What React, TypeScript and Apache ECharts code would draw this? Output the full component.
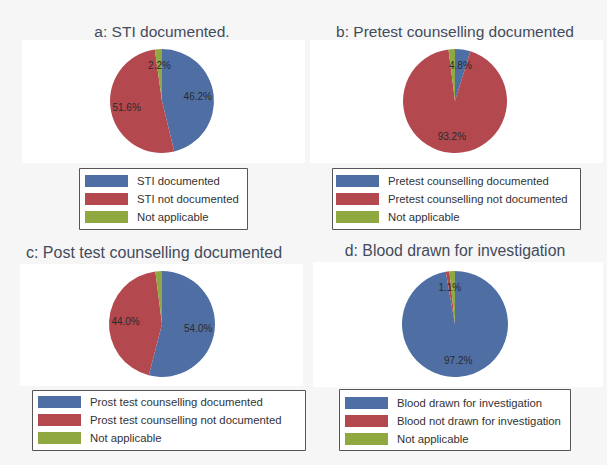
import React, { useEffect, useRef } from "react";
import * as echarts from "echarts";

const panelTitles = [
  "a: STI documented.",
  "b: Pretest counselling documented",
  "c: Post test counselling documented",
  "d: Blood drawn for investigation",
];

const legendA = ["STI documented", "STI not documented", "Not applicable"];
const legendB = ["Pretest counselling documented", "Pretest counselling not documented", "Not applicable"];
const legendC = ["Prost test counselling documented", "Prost test counselling not documented", "Not applicable"];
const legendD = ["Blood drawn for investigation", "Blood not drawn for investigation", "Not applicable"];

const valuesA = [46.2, 51.6, 2.2];
const valuesB = [4.8, 93.2, 2.0];
const valuesC = [54.0, 44.0, 2.0];
const valuesD = [97.2, 1.1, 1.7];

const labelShownA = [true, true, true];
const labelShownB = [true, true, false];
const labelShownC = [true, true, false];
const labelShownD = [true, true, false];

const sliceColors = ["#4f6fa4", "#b3484f", "#8fa83f"];
const FONT = "'Liberation Sans', Arial, sans-serif";

type Panel = {
  title: string;
  titleX: number;
  titleY: number;
  titleSize: number;
  names: string[];
  values: number[];
  shown: boolean[];
  cx: number;
  cy: number;
  r: number;
  white: [number, number, number, number];
  box: [number, number, number, number];
  legendLeft: number;
  legendTop: number;
};

const panels: Panel[] = [
  {
    title: panelTitles[0], titleX: 162, titleY: 31, titleSize: 15.5, names: legendA, values: valuesA, shown: labelShownA,
    cx: 162, cy: 101, r: 52, white: [22, 40, 283, 123], box: [79, 168, 168, 61], legendLeft: 85, legendTop: 175,
  },
  {
    title: panelTitles[1], titleX: 455, titleY: 31, titleSize: 15.5, names: legendB, values: valuesB, shown: labelShownB,
    cx: 455, cy: 101, r: 52, white: [310, 40, 293, 123], box: [332, 168, 248, 61], legendLeft: 336, legendTop: 175,
  },
  {
    title: panelTitles[2], titleX: 154, titleY: 252, titleSize: 16, names: legendC, values: valuesC, shown: labelShownC,
    cx: 162, cy: 324, r: 53, white: [20, 264, 283, 122], box: [32, 390, 273, 60], legendLeft: 38, legendTop: 396,
  },
  {
    title: panelTitles[3], titleX: 455, titleY: 250, titleSize: 15.8, names: legendD, values: valuesD, shown: labelShownD,
    cx: 455, cy: 324, r: 53, white: [313, 262, 290, 125], box: [339, 389, 231, 61], legendLeft: 345, legendTop: 397,
  },
];

export default function App() {
  const ref = useRef<HTMLDivElement>(null);

  useEffect(() => {
    document.body.style.margin = "0";
    if (!ref.current) return;
    const chart = echarts.init(ref.current, undefined, { renderer: "svg" });

    const graphics: any[] = [];
    const series: any[] = [];
    const legends: any[] = [];

    panels.forEach((p, pi) => {
      graphics.push({
        type: "rect", z: 0,
        shape: { x: p.white[0], y: p.white[1], width: p.white[2], height: p.white[3] },
        style: { fill: "#ffffff" }, silent: true,
      });
      graphics.push({
        type: "rect", z: 1,
        shape: { x: p.box[0] + 0.5, y: p.box[1] + 0.5, width: p.box[2], height: p.box[3] },
        style: { fill: "#ffffff", stroke: "#555555", lineWidth: 1 }, silent: true,
      });
      graphics.push({
        type: "text", z: 2,
        x: p.titleX, y: p.titleY,
        style: {
          text: p.title, fill: "#434b5c", font: `${p.titleSize}px ${FONT}`,
          textAlign: "center", textVerticalAlign: "middle",
        },
      });

      series.push({
        type: "pie",
        center: [p.cx, p.cy],
        radius: [0, p.r],
        startAngle: 90,
        clockwise: true,
        silent: true,
        label: { show: false },
        labelLine: { show: false },
        data: p.values.map((v, i) => ({
          name: p.names[i], value: v, itemStyle: { color: sliceColors[i] },
        })),
      });
      series.push({
        type: "pie",
        center: [p.cx, p.cy],
        radius: [Math.round(p.r * 0.26), p.r],
        startAngle: 90,
        clockwise: true,
        silent: true,
        z: 3,
        itemStyle: { color: "rgba(0,0,0,0)" },
        labelLine: { show: false },
        data: p.values.map((v, i) => ({
          name: `lbl-${pi}-${i}`,
          value: v,
          label: {
            show: p.shown[i], position: "inside",
            formatter: `${v.toFixed(1)}%`,
            color: "#2a2a2a", fontSize: 10, fontFamily: FONT,
          },
        })),
      });

      legends.push({
        orient: "vertical",
        left: p.legendLeft,
        top: p.legendTop,
        itemWidth: 43,
        itemHeight: 12,
        itemGap: 6,
        icon: "rect",
        selectedMode: false,
        padding: 0,
        data: p.names,
        textStyle: { fontSize: 11.3, color: "#333333", fontFamily: FONT, padding: [0, 0, 0, 4] },
      });
    });

    chart.setOption({
      animation: false,
      backgroundColor: "#f6f6f6",
      graphic: { elements: graphics },
      legend: legends,
      series,
    });

    return () => chart.dispose();
  }, []);

  return <div ref={ref} style={{ width: 607, height: 465 }} />;
}
